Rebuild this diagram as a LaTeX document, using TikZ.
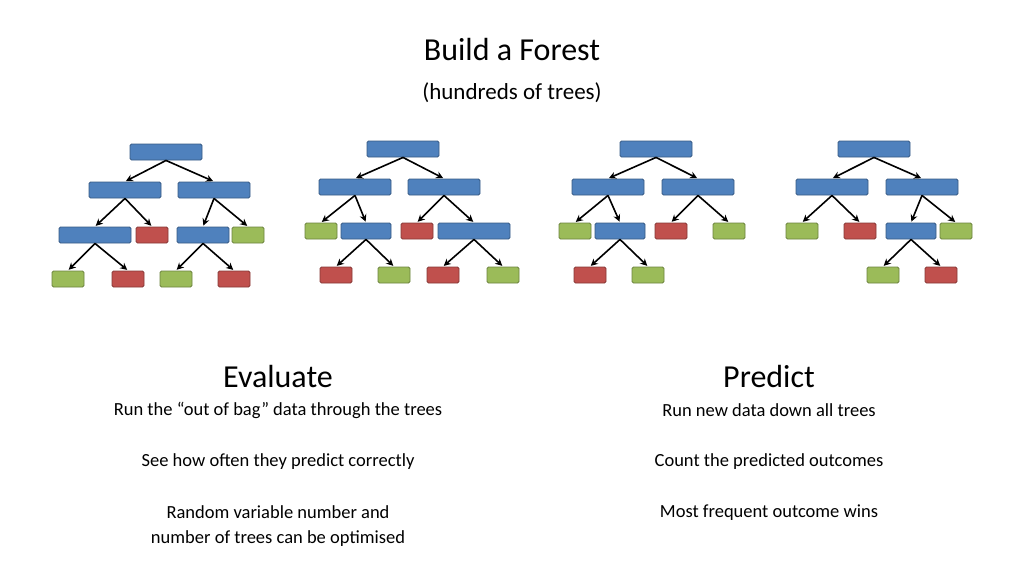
\documentclass[tikz,border=0pt]{standalone}
\usepackage{fontspec}
\setmainfont{Carlito}
\usetikzlibrary{arrows.meta}
\definecolor{boxblue}{RGB}{79,129,189}
\definecolor{boxred}{RGB}{192,80,77}
\definecolor{boxgreen}{RGB}{155,187,89}
\begin{document}
\begin{tikzpicture}[x=1pt,y=-1pt,
  box/.style={draw,rounded corners=1.5pt,line width=0.9pt,minimum height=16pt,inner sep=0pt},
  blue/.style={box,fill=boxblue,draw=boxblue!70!black,minimum width=#1pt},
  red/.style={box,fill=boxred,draw=boxred!70!black,minimum width=32pt},
  green/.style={box,fill=boxgreen,draw=boxgreen!70!black,minimum width=32pt},
  arr/.style={-{Stealth[length=7pt,width=7pt]},line width=1.6pt,shorten >=1pt},
  head/.style={font=\fontsize{32}{36}\selectfont},
  body/.style={font=\fontsize{18.5}{25}\selectfont,align=center}
]
\useasboundingbox (0,0) rectangle (1024,575);

% the titles
\node[head] (title) at (512,50) {Build a Forest};
\node[font=\fontsize{23}{26}\selectfont] (sub) at (512,93) {(hundreds of trees)};

% tree 1
\node[blue=72] (a0) at (166,152) {};
\node[blue=72] (a1) at (125,190) {};
\node[blue=72] (a2) at (214,190) {};
\node[blue=72] (a3) at (95,235) {};
\node[red] (a4) at (152,235) {};
\node[blue=52] (a5) at (203,235) {};
\node[green] (a6) at (248,235) {};
\node[green] (a7) at (68,279) {};
\node[red] (a8) at (128,279) {};
\node[green] (a9) at (176,279) {};
\node[red] (a10) at (234,279) {};
\foreach \p/\c in {a0/a1,a0/a2,a1/a3,a1/a4,a2/a5,a2/a6,a3/a7,a3/a8,a5/a9,a5/a10}
  \draw[arr] (\p.south) -- (\c.north);

% tree 2
\node[blue=72] (b0) at (403,149) {};
\node[blue=72] (b1) at (355,187) {};
\node[blue=72] (b2) at (444,187) {};
\node[green] (b3) at (321,231) {};
\node[blue=50] (b4) at (366,231) {};
\node[red] (b5) at (417,231) {};
\node[blue=72] (b6) at (474,231) {};
\node[red] (b7) at (336,275) {};
\node[green] (b8) at (394,275) {};
\node[red] (b9) at (443,275) {};
\node[green] (b10) at (503,275) {};
\foreach \p/\c in {b0/b1,b0/b2,b1/b3,b1/b4,b2/b5,b2/b6,b4/b7,b4/b8,b6/b9,b6/b10}
  \draw[arr] (\p.south) -- (\c.north);

% tree 3
\node[blue=72] (c0) at (656,149) {};
\node[blue=72] (c1) at (608,187) {};
\node[blue=72] (c2) at (698,187) {};
\node[green] (c3) at (575,231) {};
\node[blue=50] (c4) at (620,231) {};
\node[red] (c5) at (671,231) {};
\node[green] (c6) at (729,231) {};
\node[red] (c7) at (590,275) {};
\node[green] (c8) at (648,275) {};
\foreach \p/\c in {c0/c1,c0/c2,c1/c3,c1/c4,c2/c5,c2/c6,c4/c7,c4/c8}
  \draw[arr] (\p.south) -- (\c.north);

% tree 4
\node[blue=72] (d0) at (874,149) {};
\node[blue=72] (d1) at (832,187) {};
\node[blue=72] (d2) at (922,187) {};
\node[green] (d3) at (802,231) {};
\node[red] (d4) at (860,231) {};
\node[blue=50] (d5) at (911,231) {};
\node[green] (d6) at (956,231) {};
\node[green] (d7) at (883,275) {};
\node[red] (d8) at (941,275) {};
\foreach \p/\c in {d0/d1,d0/d2,d1/d3,d1/d4,d2/d5,d2/d6,d5/d7,d5/d8}
  \draw[arr] (\p.south) -- (\c.north);

% the two columns
\node[head] (eval) at (278,377) {Evaluate};
\node[body] (e1) at (278,410) {Run the “out of bag” data through the trees};
\node[body] (e2) at (278,462) {See how often they predict correctly};
\node[body] (e3) at (278,526) {Random variable number and\\number of trees can be optimised};
\node[head] (pred) at (769,377) {Predict};
\node[body] (p1) at (769,410) {Run new data down all trees};
\node[body] (p2) at (769,462) {Count the predicted outcomes};
\node[body] (p3) at (769,513) {Most frequent outcome wins};
\end{tikzpicture}
\end{document}
